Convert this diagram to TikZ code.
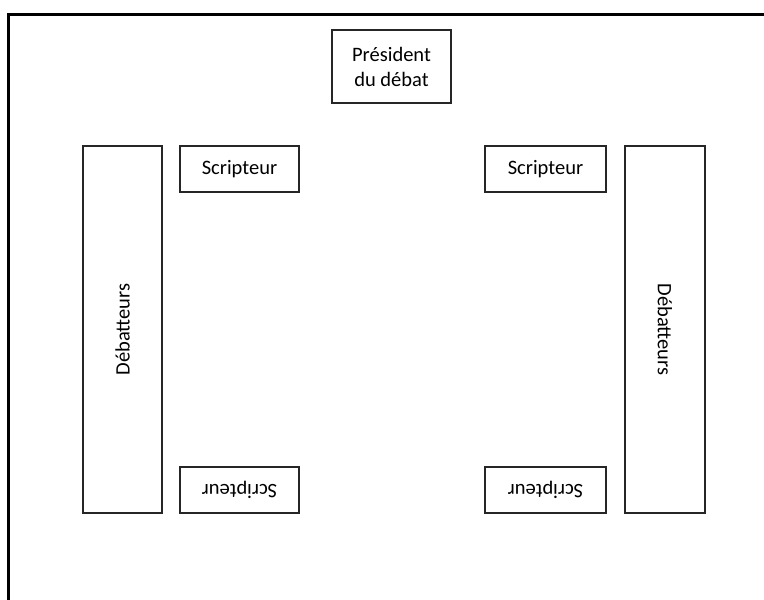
\documentclass[tikz,border=0pt]{standalone}
\usepackage{fontspec}
\setmainfont{Carlito}
\begin{document}
\begin{tikzpicture}[x=1pt,y=-1pt,
  box/.style={draw=black!85,line width=1.3pt,inner sep=0pt,fill=white,
    font=\fontsize{20.5}{25}\selectfont,align=center}]
\useasboundingbox (0,0) rectangle (764,600);
\clip (0,0) rectangle (764,600);
\draw[line width=3pt] (8.5,14) rectangle (820,660);
% Président
\node[box,minimum width=119pt,minimum height=73pt] (pres) at (391.5,66.5) {Président\\du débat};
% débatteurs
\node[box,rotate=90,minimum width=367pt,minimum height=79pt] (debl) at (122.5,329.5) {Débatteurs};
\node[box,rotate=-90,minimum width=367pt,minimum height=80pt] (debr) at (665,329.5) {Débatteurs};
% scripteurs
\node[box,minimum width=119pt,minimum height=46pt] (stl) at (239.5,169) {Scripteur};
\node[box,minimum width=121pt,minimum height=46pt] (str) at (545.5,169) {Scripteur};
\node[box,rotate=180,minimum width=119pt,minimum height=46pt] (sbl) at (239.5,490) {Scripteur};
\node[box,rotate=180,minimum width=121pt,minimum height=46pt] (sbr) at (545.5,490) {Scripteur};
\end{tikzpicture}
\end{document}
